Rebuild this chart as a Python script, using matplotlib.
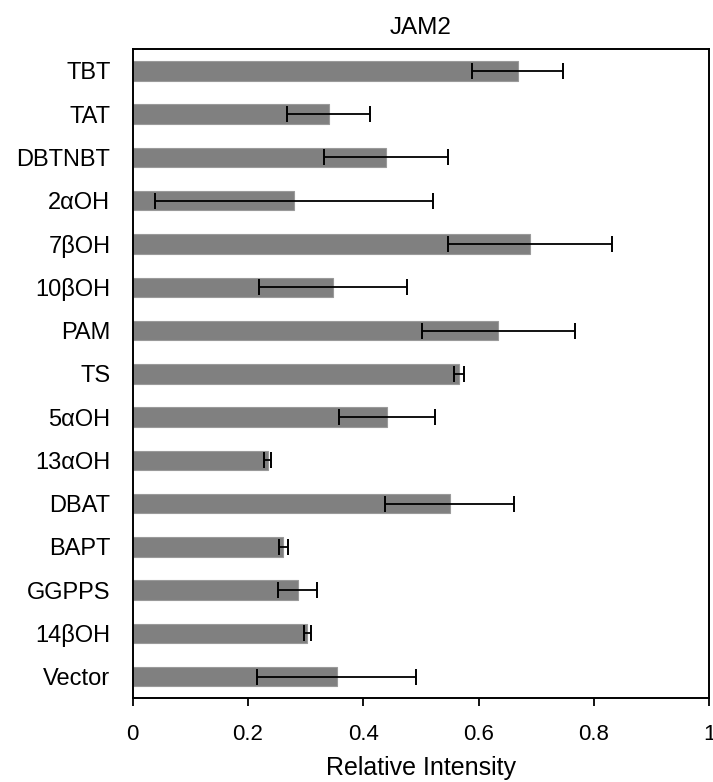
import matplotlib.pyplot as plt
import numpy as np

plt.rcParams['font.family'] = ['Liberation Sans', 'DejaVu Sans']

names = ["TBT", "TAT", "DBTNBT", "2αOH", "7βOH", "10βOH", "PAM", "TS",
         "5αOH", "13αOH", "DBAT", "BAPT", "GGPPS", "14βOH", "Vector"]
means = [0.668, 0.340, 0.439, 0.280, 0.689, 0.347, 0.634, 0.566,
         0.441, 0.234, 0.550, 0.261, 0.286, 0.303, 0.354]
errs = [0.079, 0.072, 0.108, 0.241, 0.143, 0.128, 0.133, 0.008,
        0.084, 0.006, 0.112, 0.008, 0.034, 0.006, 0.138]
xticks = [0, 0.2, 0.4, 0.6, 0.8, 1]
xticklabels = ["0", "0.2", "0.4", "0.6", "0.8", "1"]

fig = plt.figure(figsize=(7.13, 7.82), dpi=100)
ax = fig.add_axes([0.1861, 0.107, 0.8087, 0.830])

y = np.arange(len(names))
ax.barh(y, means, height=0.45, color="#808080", edgecolor="#9a9a9a", linewidth=0.8)
ax.errorbar(means, y, xerr=errs, fmt="none", ecolor="black",
            elinewidth=1.3, capsize=5.5, capthick=1.4)

ax.set_ylim(len(names) - 0.5, -0.5)
ax.set_yticks(y)
ax.set_yticklabels(names, fontsize=17)
ax.tick_params(axis="y", length=0, pad=16)

ax.set_xlim(0, 1)
ax.set_xticks(xticks)
ax.set_xticklabels(xticklabels, fontsize=16)
ax.tick_params(axis="x", direction="out", length=5.5, width=1.3, pad=13)
ax.set_xlabel("Relative Intensity", fontsize=18, labelpad=8)
ax.set_title("JAM2", fontsize=17.5, pad=11)

for s in ax.spines.values():
    s.set_linewidth(1.4)

fig.savefig("out.png", dpi=100)
